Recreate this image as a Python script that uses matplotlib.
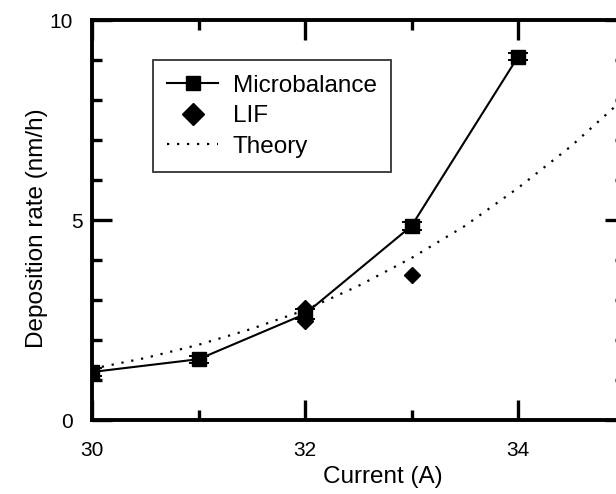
import matplotlib
matplotlib.use("Agg")
import matplotlib.pyplot as plt
from matplotlib.lines import Line2D
from matplotlib.transforms import ScaledTranslation
import numpy as np

plt.rcParams['font.family'] = ['Liberation Sans', 'DejaVu Sans']

# microbalance measurements
mb_current = [30, 31, 32, 33, 34]
mb_rate = [1.2, 1.52, 2.65, 4.85, 9.08]
mb_err = [0.09, 0.09, 0.12, 0.09, 0.09]

# LIF measurements
lif_current = [32, 32, 33]
lif_rate = [2.48, 2.8, 3.62]

# theory curve
th_current = [30.0, 30.5, 31.0, 31.5, 32.0, 32.5, 33.0, 33.5, 34.0, 34.5, 35.0]
th_rate = [1.28, 1.55, 1.88, 2.28, 2.75, 3.35, 4.05, 4.85, 5.8, 6.85, 8.05]

fig = plt.figure(figsize=(6.16, 4.94), dpi=100)
# right spine lies just past the picture edge in the original
ax = fig.add_axes([92/616, 74/494, 532.5/616, 400/494])

ax.plot(th_current, th_rate, color='black', lw=1.6, ls=(0, (1, 3.5)))
ax.errorbar(mb_current, mb_rate, yerr=mb_err, color='black', lw=1.5,
            marker='s', ms=10, capsize=7.5, capthick=1.4, elinewidth=1.4)
ax.plot(lif_current, lif_rate, ls='none', marker='D', ms=8.3, color='black')

ax.set_xlim(30, 35)
ax.set_ylim(0, 10)
ax.set_xticks([30, 32, 34])
ax.set_xticks([31, 33, 35], minor=True)
ax.set_yticks([0, 5, 10])
ax.set_yticks(np.arange(1, 10), minor=True)

for s in ax.spines.values():
    s.set_linewidth(2.8)
ax.tick_params(which='both', direction='in', top=True, right=True,
               width=2.4, labelsize=15)
ax.tick_params(which='major', length=14.5, pad=15)
ax.tick_params(which='minor', length=7.5)
ax.tick_params(axis='y', which='major', pad=14)

# the "5" label sits further right in the original
fig.canvas.draw()
lab5 = ax.get_yticklabels()[1]
lab5.set_transform(lab5.get_transform() + ScaledTranslation(0.1, 0, fig.dpi_scale_trans))

ax.set_xlabel('Current (A)', fontsize=17.5)
ax.xaxis.set_label_coords((383 - 92) / 532.5, -0.115)
ax.set_ylabel('Deposition rate (nm/h)', fontsize=17.5)
ax.yaxis.set_label_coords(-0.082, 0.48)

handles = [
    Line2D([], [], color='black', lw=1.5, marker='s', ms=9.5),
    Line2D([], [], color='black', ls='none', marker='D', ms=11),
    Line2D([], [], color='black', lw=1.6, ls=(0, (1, 3.5))),
]
leg = ax.legend(handles, ['Microbalance', 'LIF', 'Theory'],
                loc='upper left', bbox_to_anchor=(0.114, 0.9),
                fontsize=17.5, frameon=True, fancybox=False,
                edgecolor='black', handlelength=2.1, handletextpad=0.6,
                labelspacing=0.35, borderpad=0.6, borderaxespad=0)
leg.get_frame().set_linewidth(1.3)

fig.savefig('out.png', dpi=100)
